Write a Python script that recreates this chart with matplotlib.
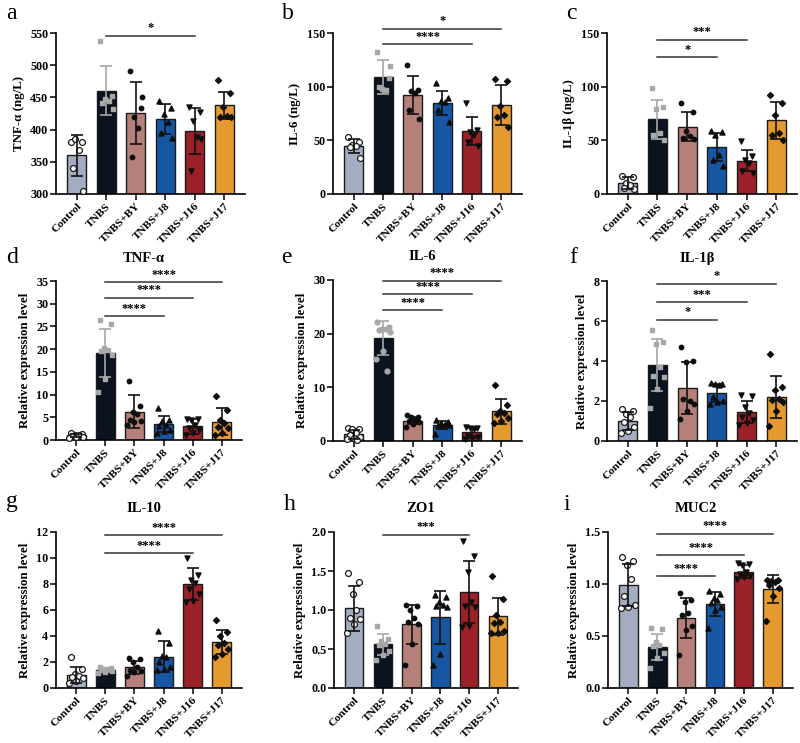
import numpy as np
import matplotlib
matplotlib.use('Agg')
import matplotlib.pyplot as plt
from matplotlib.ticker import FormatStrFormatter

plt.rcParams['font.family'] = ['Liberation Serif', 'DejaVu Serif']
plt.rcParams['font.weight'] = 'bold'

groups = ['Control', 'TNBS', 'TNBS+BY', 'TNBS+J8', 'TNBS+J16', 'TNBS+J17']
bar_colors = ['#a3acc0', '#0b1220', '#b5807a', '#1656a3', '#9a2127', '#e59a30']

# ---- panel a : TNF-α (ng/L)
a_mean = [360, 460, 426, 416, 398, 438]
a_sd = [32, 38, 48, 23, 36, 21]
a_pts = [[381, 380, 385, 369, 341, 304], [537, 452, 448, 444, 441, 432],
         [491, 433, 419, 403, 358, 450], [445, 434, 425, 412, 394, 387],
         [435, 428, 414, 389, 336, 386], [477, 457, 435, 421, 419, 420]]
a_sig = [(1, 4, 546, '*')]

# ---- panel b : IL-6 (ng/L)
b_mean = [45, 109, 92, 85, 58.5, 83]
b_sd = [6.5, 16, 17.5, 11, 13, 18.5]
b_pts = [[53, 48, 46, 45, 44, 34], [132, 108, 98, 97, 100, 119],
         [120, 97, 95.5, 94, 78, 70], [103, 89, 87, 86, 78, 67],
         [85, 60, 58, 55, 48, 45], [107, 105, 82, 74, 72, 62]]
b_sig = [(1, 4, 139.5, '****'), (1, 5, 154, '*')]

# ---- panel c : IL-1β (ng/L)
c_mean = [10.3, 69.5, 62.5, 44, 31, 68.5]
c_sd = [5.5, 18.5, 13.5, 13, 10, 17.5]
c_pts = [[17, 16, 10, 8, 6, 5], [98.7, 81.5, 79, 56.6, 55, 50.4],
         [85, 76, 59, 54, 52, 51], [59, 58, 55, 36, 32, 26],
         [49, 35, 32, 29, 21, 20], [92, 85, 74, 57, 55, 50]]
c_sig = [(1, 3, 127.5, '*'), (1, 4, 143.8, '***')]

# ---- panel d : TNF-α relative
d_mean = [1.0, 19.2, 6.2, 3.5, 3.0, 4.0]
d_sd = [0.35, 5.3, 3.6, 1.75, 1.6, 2.95]
d_pts = [[1.5, 1.4, 1.2, 1.0, 0.9, 0.7, 0.6, 0.5],
         [26.5, 25.5, 20.3, 19.8, 19.5, 18.8, 13.5, 10.5],
         [13, 7.5, 6.2, 5.8, 4.5, 4.2, 4, 3.2],
         [7, 4.5, 4.1, 3.4, 3, 2.3, 1.9, 1.5],
         [4.7, 4.6, 4.5, 3.2, 2.6, 2.2, 1.5, 1.2],
         [9.7, 6.6, 4.5, 3.8, 2.8, 2.6, 1.5, 1.2]]
d_sig = [(1, 3, 27.2, '****'), (1, 4, 31.3, '****'), (1, 5, 34.8, '****')]

# ---- panel e : IL-6 relative
e_mean = [1.25, 19.2, 3.8, 3.0, 1.6, 5.5]
e_sd = [0.85, 3.2, 0.6, 0.7, 1.0, 2.3]
e_pts = [[2.4, 2.3, 2.2, 1.5, 1.2, 0.8, 0.5, 0.3, 0.2],
         [22.1, 21.2, 20.9, 20.8, 20.6, 20.4, 16.7, 15.3, 13.0],
         [4.8, 4.5, 4.4, 4.0, 3.8, 3.5, 3.2, 2.7],
         [3.9, 3.5, 3.3, 3.2, 3.0, 2.9, 2.8, 1.3],
         [2.6, 2.5, 2.4, 2.3, 1.0, 0.8, 0.5, 0.3],
         [10.5, 6.8, 5.6, 5.3, 5.0, 4.2, 3.7, 3.3]]
e_sig = [(1, 3, 24.4, '****'), (1, 4, 27.4, '****'), (1, 5, 29.9, '****')]

# ---- panel f : IL-1β relative
f_mean = [1.0, 3.8, 2.65, 2.38, 1.45, 2.22]
f_sd = [0.45, 1.28, 1.32, 0.45, 0.55, 1.05]
f_pts = [[1.6, 1.5, 1.35, 1.2, 0.95, 0.7, 0.5, 0.4],
         [5.55, 4.95, 4.85, 3.7, 3.25, 3.2, 2.6, 1.65],
         [4.7, 4.0, 3.95, 2.0, 2.1, 1.85, 1.5, 1.12],
         [2.9, 2.85, 2.85, 2.8, 2.2, 2.0, 1.95, 1.85],
         [2.3, 2.25, 1.7, 1.4, 1.2, 1.03, 0.9, 0.8],
         [4.35, 2.7, 2.55, 2.1, 2.05, 1.95, 1.5, 0.75]]
f_sig = [(1, 3, 6.07, '*'), (1, 4, 6.95, '***'), (1, 5, 7.87, '*')]

# ---- panel g : IL-10 relative
g_mean = [1.0, 1.35, 1.6, 2.4, 8.0, 3.55]
g_sd = [0.6, 0.15, 0.5, 1.2, 1.2, 0.95]
g_pts = [[2.4, 1.5, 1.1, 0.95, 0.85, 0.75, 0.55, 0.4],
         [1.6, 1.55, 1.5, 1.45, 1.4, 1.3, 1.2, 1.15],
         [2.3, 2.2, 2.0, 1.6, 1.4, 1.3, 1.2, 0.9],
         [4.35, 3.5, 2.5, 2.4, 2.0, 1.65, 1.5, 1.4],
         [10.0, 8.7, 8.3, 8.1, 7.6, 7.2, 6.7, 6.6],
         [5.2, 4.3, 4.0, 3.5, 3.3, 3.0, 2.65, 2.4]]
g_sig = [(1, 4, 10.36, '****'), (1, 5, 11.75, '****')]

# ---- panel h : ZO1 relative
h_mean = [1.02, 0.56, 0.82, 0.91, 1.23, 0.92]
h_sd = [0.29, 0.135, 0.25, 0.34, 0.395, 0.235]
h_pts = [[1.48, 1.36, 1.2, 1.0, 0.9, 0.88, 0.82, 0.7],
         [0.8, 0.63, 0.6, 0.57, 0.55, 0.47, 0.42, 0.36],
         [1.06, 1.05, 1.0, 0.9, 0.84, 0.82, 0.56, 0.3],
         [1.19, 1.17, 1.1, 1.07, 1.05, 1.04, 0.43, 0.3],
         [1.89, 1.69, 1.49, 1.1, 1.05, 1.04, 0.8, 0.78],
         [1.43, 1.14, 0.94, 0.84, 0.83, 0.73, 0.71, 0.7]]
h_sig = [(1, 4, 1.966, '***')]

# ---- panel i : MUC2 relative
i_mean = [0.99, 0.39, 0.675, 0.805, 1.12, 0.95]
i_sd = [0.2, 0.125, 0.19, 0.115, 0.065, 0.135]
i_pts = [[1.26, 1.22, 1.18, 1.05, 0.88, 0.8, 0.78, 0.77],
         [0.58, 0.57, 0.44, 0.41, 0.4, 0.34, 0.29, 0.19],
         [0.91, 0.85, 0.83, 0.72, 0.7, 0.6, 0.56, 0.32],
         [0.93, 0.9, 0.87, 0.85, 0.82, 0.78, 0.75, 0.58],
         [1.2, 1.19, 1.18, 1.12, 1.1, 1.08, 1.07, 1.05],
         [1.04, 1.04, 1.03, 1.02, 0.99, 0.96, 0.88, 0.64]]
i_sig = [(1, 3, 1.077, '****'), (1, 4, 1.277, '****'), (1, 5, 1.484, '****')]

panels = [
    dict(letter='a', title=None, ylabel='TNF-α (ng/L)', mean=a_mean, sd=a_sd, pts=a_pts, sig=a_sig,
         ylim=(300, 550), ticks=[300, 350, 400, 450, 500, 550], fmt='%d', box=(56, 245, 33, 194), tnbs_marker='s'),
    dict(letter='b', title=None, ylabel='IL-6 (ng/L)', mean=b_mean, sd=b_sd, pts=b_pts, sig=b_sig,
         ylim=(0, 150), ticks=[0, 50, 100, 150], fmt='%d', box=(333, 522, 33, 194), tnbs_marker='s'),
    dict(letter='c', title=None, ylabel='IL-1β (ng/L)', mean=c_mean, sd=c_sd, pts=c_pts, sig=c_sig,
         ylim=(0, 150), ticks=[0, 50, 100, 150], fmt='%d', box=(607, 797, 33, 194), tnbs_marker='s'),
    dict(letter='d', title='TNF-α', ylabel='Relative expression level', mean=d_mean, sd=d_sd, pts=d_pts, sig=d_sig,
         ylim=(0, 35), ticks=[0, 5, 10, 15, 20, 25, 30, 35], fmt='%d', box=(56, 242, 281, 440), tnbs_marker='s'),
    dict(letter='e', title='IL-6', ylabel='Relative expression level', mean=e_mean, sd=e_sd, pts=e_pts, sig=e_sig,
         ylim=(0, 30), ticks=[0, 10, 20, 30], fmt='%d', box=(333, 522, 280, 441), tnbs_marker='o'),
    dict(letter='f', title='IL-1β', ylabel='Relative expression level', mean=f_mean, sd=f_sd, pts=f_pts, sig=f_sig,
         ylim=(0, 8), ticks=[0, 2, 4, 6, 8], fmt='%d', box=(607, 797, 281, 441), tnbs_marker='s'),
    dict(letter='g', title='IL-10', ylabel='Relative expression level', mean=g_mean, sd=g_sd, pts=g_pts, sig=g_sig,
         ylim=(0, 12), ticks=[0, 2, 4, 6, 8, 10, 12], fmt='%d', box=(56, 242, 532, 688), tnbs_marker='s'),
    dict(letter='h', title='ZO1', ylabel='Relative expression level', mean=h_mean, sd=h_sd, pts=h_pts, sig=h_sig,
         ylim=(0, 2.0), ticks=[0, 0.5, 1.0, 1.5, 2.0], fmt='%.1f', box=(334, 518, 532, 688), tnbs_marker='s'),
    dict(letter='i', title='MUC2', ylabel='Relative expression level', mean=i_mean, sd=i_sd, pts=i_pts, sig=i_sig,
         ylim=(0, 1.5), ticks=[0, 0.5, 1.0, 1.5], fmt='%.1f', box=(608, 793, 532, 688), tnbs_marker='s'),
]

W, H = 800, 743
fig = plt.figure(figsize=(W / 100, H / 100), dpi=100)

jitter_pattern = [-0.2, 0.18, -0.05, 0.08, -0.14, 0.22, 0.0, -0.24, 0.12]
point_markers = ['o', 's', 'o', '^', 'v', 'D']
point_sizes = [18, 12, 10, 13, 13, 9]

for p in panels:
    l, r, t, b = p['box']
    ax = fig.add_axes([l / W, 1 - b / H, (r - l) / W, (b - t) / H])
    x = np.arange(len(groups))
    ax.bar(x, p['mean'], width=0.65, color=bar_colors, edgecolor='#1a1a1a', linewidth=1.0, zorder=2)
    for k in range(len(groups)):
        vals = np.array(p['pts'][k], dtype=float)
        offs = np.array(jitter_pattern[:len(vals)])
        mk = point_markers[k]
        if k == 1:
            mk = p['tnbs_marker']
            ax.scatter(x[k] + offs, vals, marker=mk, s=point_sizes[k], color='#a8a8a8', zorder=4, clip_on=False)
            ecol = '#a8a8a8'
        elif k == 0:
            ax.scatter(x[k] + offs, vals, marker='o', s=point_sizes[k], facecolor='white',
                       edgecolor='#1a1a1a', linewidth=0.9, zorder=4, clip_on=False)
            ecol = '#111111'
        else:
            ax.scatter(x[k] + offs, vals, marker=mk, s=point_sizes[k], color='#0d0d0d', zorder=4, clip_on=False)
            ecol = '#111111'
        ax.errorbar(x[k], p['mean'][k], yerr=p['sd'][k], fmt='none', ecolor=ecol,
                    elinewidth=1.2, capsize=4, capthick=1.2, zorder=5)
    ax.set_xlim(-0.7, 5.7)
    ax.set_ylim(*p['ylim'])
    ax.set_yticks(p['ticks'])
    ax.yaxis.set_major_formatter(FormatStrFormatter(p['fmt']))
    ax.set_xticks(x)
    ax.set_xticklabels(groups, rotation=45, ha='right', rotation_mode='anchor', fontsize=8.2, fontweight='bold')
    for lab in ax.get_yticklabels():
        lab.set_fontsize(8.7)
        lab.set_fontweight('bold')
    ax.tick_params(axis='both', direction='out', length=4, width=1.1, pad=1.5)
    ax.spines['top'].set_visible(False)
    ax.spines['right'].set_visible(False)
    ax.spines['left'].set_linewidth(1.2)
    ax.spines['bottom'].set_linewidth(1.2)
    ax.set_ylabel(p['ylabel'], fontsize=9.3, fontweight='bold', labelpad=4)
    for (i0, i1, yv, stars) in p['sig']:
        ax.plot([x[i0], x[i1]], [yv, yv], color='#333333', lw=1.1, clip_on=False, zorder=6)
        ax.annotate(stars, xy=((x[i0] + x[i1]) / 2, yv), xytext=(0, 1), textcoords='offset points',
                    ha='center', va='bottom', fontsize=9, fontweight='bold', annotation_clip=False)
    if p['title']:
        fig.text(((l + r) / 2 - 5) / W, 1 - (t - 23) / H, p['title'], ha='center', va='center',
                 fontsize=10.5, fontweight='bold')

letters = [('a', 6, 19), ('b', 282, 19), ('c', 566, 19),
           ('d', 6, 263), ('e', 281, 263), ('f', 569, 263),
           ('g', 6, 507), ('h', 284, 510), ('i', 563, 510)]
for L, lx, ly in letters:
    fig.text(lx / W, 1 - ly / H, L, ha='left', va='baseline', fontsize=17, fontweight='normal')

fig.savefig('out.png', dpi=100)
